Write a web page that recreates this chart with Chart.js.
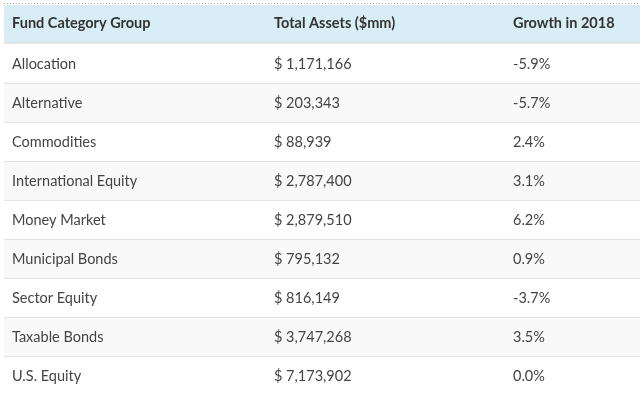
<!DOCTYPE html>
<html>
<head>
<meta charset="utf-8">
<script src="https://cdn.jsdelivr.net/npm/chart.js@4/dist/chart.umd.min.js"></script>
<style>
html,body{margin:0;padding:0;background:#fff;}
canvas{display:block;}
</style>
</head>
<body>
<canvas id="c" width="640" height="407"></canvas>
<script>
const headers = ["Fund Category Group", "Total Assets ($mm)", "Growth in 2018"];
const categories = ["Allocation", "Alternative", "Commodities", "International Equity", "Money Market", "Municipal Bonds", "Sector Equity", "Taxable Bonds", "U.S. Equity"];
const totalAssets = [1171166, 203343, 88939, 2787400, 2879510, 795132, 816149, 3747268, 7173902];
const growth = [-5.9, -5.7, 2.4, 3.1, 6.2, 0.9, -3.7, 3.5, 0.0];

const FONT = "Lato, 'PT Sans', 'Noto Sans', sans-serif";
const WIDTH = 636;
const colX = [8, 270, 509];
const rowLabels = ["__header__"].concat(categories);
const rowSpans = rowLabels.map(() => [0, WIDTH]);

function fmtAssets(v){ return "$ " + v.toLocaleString("en-US"); }
function fmtGrowth(v){ return v.toFixed(1) + "%"; }

const tablePlugin = {
  id: "tableText",
  beforeDatasetsDraw(chart){
    const ctx = chart.ctx;
    const a = chart.chartArea;
    ctx.save();
    ctx.strokeStyle = "#b0b0b0";
    ctx.lineWidth = 1;
    ctx.setLineDash([1, 2]);
    ctx.beginPath();
    ctx.moveTo(a.left, a.top - 1.5);
    ctx.lineTo(a.right, a.top - 1.5);
    ctx.stroke();
    ctx.restore();
  },
  afterDatasetsDraw(chart){
    const ctx = chart.ctx;
    const xs = chart.scales.x, ys = chart.scales.y;
    ctx.save();
    ctx.textBaseline = "middle";
    ctx.textAlign = "left";
    rowLabels.forEach((lab, i) => {
      const y = ys.getPixelForValue(i) + (i === 0 ? -1 : 0.5);
      let cells;
      if (i === 0) {
        ctx.font = "bold 14.5px " + FONT;
        ctx.fillStyle = "#333";
        cells = headers;
      } else {
        ctx.font = "14.5px " + FONT;
        ctx.fillStyle = "#444";
        cells = [categories[i-1], fmtAssets(totalAssets[i-1]), fmtGrowth(growth[i-1])];
      }
      cells.forEach((t, j) => ctx.fillText(t, xs.getPixelForValue(colX[j]), y));
    });
    ctx.restore();
  }
};

new Chart(document.getElementById("c"), {
  type: "bar",
  data: {
    labels: rowLabels,
    datasets: [{
      data: rowSpans,
      backgroundColor: ctx => ctx.dataIndex === 0 ? "#d9edf7" : (ctx.dataIndex % 2 === 0 ? "#f9f9f9" : "#ffffff"),
      borderColor: "#dddddd",
      borderWidth: ctx => ctx.dataIndex === 0 ? {top:0,left:0,right:0,bottom:2} : (ctx.dataIndex === 1 ? 0 : {top:1,left:0,right:0,bottom:0}),
      borderSkipped: false,
      categoryPercentage: 1,
      barPercentage: 1
    }]
  },
  options: {
    indexAxis: "y",
    responsive: false,
    animation: false,
    events: [],
    layout: { padding: { left: 4, right: 0, top: 5, bottom: 12 } },
    plugins: { legend: { display: false }, tooltip: { enabled: false } },
    scales: {
      x: { type: "linear", min: 0, max: WIDTH, display: false },
      y: { type: "category", display: false, offset: true }
    }
  },
  plugins: [tablePlugin]
});
</script>
</body>
</html>
